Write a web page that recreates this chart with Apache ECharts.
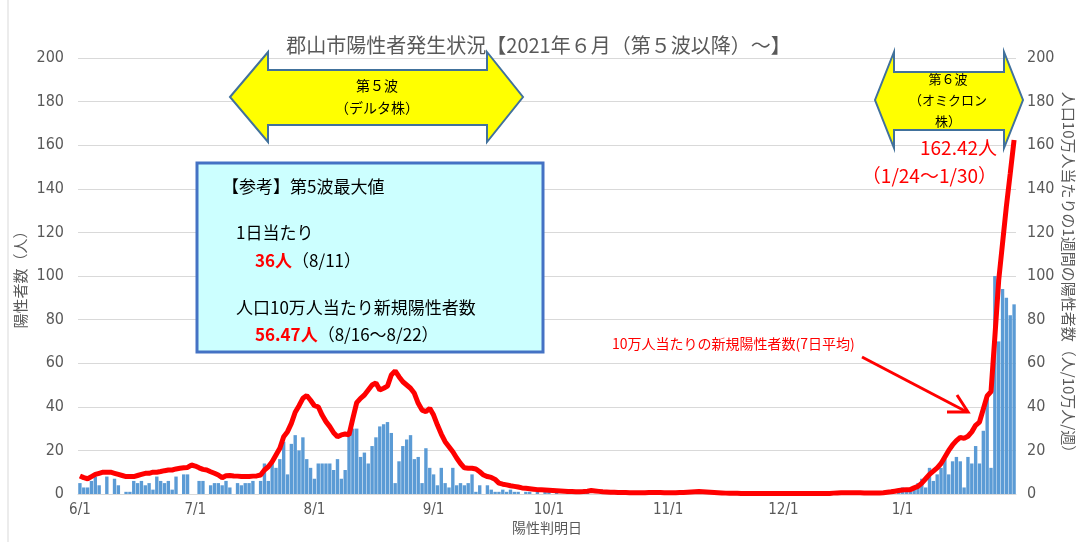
<!DOCTYPE html>
<html lang="ja">
<head>
<meta charset="utf-8">
<title>郡山市陽性者発生状況</title>
<script src="https://cdn.jsdelivr.net/npm/echarts@6/dist/echarts.min.js"></script>
<style>
  html, body { margin: 0; padding: 0; background: #fff; }
  #myChart { width: 1077px; height: 542px; }
</style>
</head>
<body>
<div id="myChart"></div>
<script>
// 期間 2021/6/1 〜 2022/1/30
const months = [6, 7, 8, 9, 10, 11, 12, 1]
const monthDays = [30, 31, 31, 30, 31, 30, 31, 30]

// 日別陽性者数（人）
const barsJun = [5, 3, 3, 6, 8, 4, 0, 8, 0, 7, 4, 0, 1, 1, 6, 5, 6, 4, 5, 2, 8, 6, 5, 6, 2, 8, 0, 9, 9, 0]
const barsJul = [0, 6, 6, 0, 4, 5, 5, 4, 6, 3, 0, 5, 4, 5, 5, 6, 0, 6, 14, 6, 15, 12, 16, 24, 9, 23, 27, 20, 26, 16, 12]
const barsAug = [7, 14, 14, 14, 14, 11, 16, 7, 11, 29, 30, 30, 17, 19, 14, 22, 26, 31, 32, 33, 28, 5, 15, 22, 25, 27, 16, 17, 5, 21, 12]
const barsSep = [9, 4, 12, 5, 3, 12, 4, 5, 4, 5, 9, 1, 4, 0, 4, 2, 1, 1, 2, 1, 2, 1, 1, 0, 1, 1, 0, 1, 0, 1]
const barsOct = [1, 0, 1, 0, 0, 1, 0, 0, 1, 2, 1, 0, 0, 0, 1, 0, 0, 0, 1, 0, 0, 0, 0, 1, 0, 0, 0, 0, 0, 1, 0]
const barsNov = [0, 0, 0, 1, 0, 0, 1, 0, 1, 0, 0, 0, 0, 0, 0, 0, 0, 1, 0, 0, 0, 0, 0, 0, 0, 0, 0, 0, 0, 0]
const barsDec = [0, 0, 0, 0, 0, 0, 0, 0, 0, 0, 0, 0, 0, 0, 0, 0, 0, 0, 0, 0, 0, 0, 1, 0, 1, 0, 0, 1, 0, 0, 1]
const barsJan = [3, 1, 1, 2, 5, 7, 3, 12, 6, 9, 12, 16, 9, 15, 17, 15, 3, 17, 14, 22, 14, 29, 45, 12, 100, 70, 94, 90, 82, 87]

// 10万人当たりの新規陽性者数（7日間）
const lineJun = [8.3, 7.5, 7.0, 8.0, 9.0, 9.5, 10.0, 10.0, 10.0, 9.5, 9.0, 8.5, 8.0, 8.0, 8.0, 8.5, 9.0, 9.5, 9.5, 10.0, 10.0, 10.3, 10.7, 11.0, 11.0, 11.5, 11.8, 12.0, 12.2, 13.3]
const lineJul = [12.8, 12.0, 11.3, 11.0, 10.2, 9.5, 8.7, 7.5, 8.4, 8.5, 8.3, 8.2, 8.0, 8.0, 8.0, 8.2, 8.3, 8.7, 11.0, 12.5, 14.8, 17.9, 21.0, 26.3, 28.6, 32.4, 37.5, 40.5, 43.9, 45.2, 43.0]
const lineAug = [40.5, 40.0, 36.2, 33.2, 30.9, 28.1, 26.3, 27.1, 27.5, 27.1, 34.7, 41.9, 43.9, 45.4, 47.7, 50.0, 51.0, 47.7, 48.5, 49.5, 54.6, 56.5, 53.8, 51.5, 50.0, 48.5, 46.2, 41.6, 38.5, 37.8, 39.3]
const lineSep = [36.2, 31.6, 27.5, 24.0, 21.7, 19.4, 16.5, 14.0, 12.0, 11.8, 11.8, 11.5, 10.2, 8.7, 8.0, 7.6, 6.7, 5.0, 4.5, 4.2, 3.8, 3.5, 3.2, 2.8, 2.6, 2.4, 2.2, 2.0, 1.9, 1.8]
const lineOct = [1.7, 1.6, 1.5, 1.4, 1.3, 1.2, 1.1, 1.0, 1.0, 1.1, 1.3, 1.6, 1.4, 1.2, 1.0, 0.9, 0.8, 0.8, 0.7, 0.7, 0.7, 0.6, 0.6, 0.6, 0.6, 0.6, 0.7, 0.7, 0.7, 0.7, 0.6]
const lineNov = [0.6, 0.6, 0.6, 0.7, 0.7, 0.8, 0.9, 1.0, 1.1, 1.0, 0.9, 0.8, 0.7, 0.6, 0.5, 0.4, 0.3, 0.3, 0.3, 0.2, 0.2, 0.2, 0.2, 0.2, 0.2, 0.2, 0.2, 0.2, 0.2, 0.2]
const lineDec = [0.2, 0.2, 0.2, 0.2, 0.2, 0.2, 0.2, 0.2, 0.2, 0.2, 0.2, 0.2, 0.2, 0.4, 0.5, 0.6, 0.6, 0.6, 0.6, 0.6, 0.6, 0.5, 0.5, 0.5, 0.5, 0.5, 0.6, 0.8, 1.0, 1.3, 1.6]
const lineJan = [1.8, 2.0, 2.0, 2.8, 3.5, 5.0, 7.0, 9.0, 10.5, 12.0, 14.0, 17.0, 20.0, 22.5, 24.5, 26.0, 25.5, 26.5, 28.5, 31.5, 33.0, 39.0, 45.0, 47.0, 72.0, 98.0, 115.0, 132.0, 147.0, 162.42]

// 軸の目盛り
const yMin = 0
const yMax = 200
const yStep = 20

const categories = []
months.forEach((m, i) => {
  for (let d = 1; d <= monthDays[i]; d++) {
    categories.push(m + '/' + d)
  }
})
const dailyCases = [].concat(barsJun, barsJul, barsAug, barsSep, barsOct, barsNov, barsDec, barsJan)
const weeklyPer100k = [].concat(lineJun, lineJul, lineAug, lineSep, lineOct, lineNov, lineDec, lineJan)

const jp = "'Noto Sans CJK JP', sans-serif"
const num = "'Liberation Sans Narrow', 'DejaVu Sans Condensed', Roboto, sans-serif"
const gray = '#595959'
const isMonthStart = (index, value) => /\/1$/.test(value)

const option = {
  animation: false,
  title: {
    text: '郡山市陽性者発生状況【2021年６月（第５波以降）～】',
    left: 'center',
    top: 30,
    textStyle: { color: gray, fontSize: 20, fontWeight: 'normal', fontFamily: jp }
  },
  grid: { left: 78, right: 61, top: 58, bottom: 48, containLabel: false, outerBoundsMode: 'none' },
  xAxis: {
    type: 'category',
    data: categories,
    name: '陽性判明日',
    nameLocation: 'middle',
    nameGap: 27,
    nameMoveOverlap: false,
    nameTextStyle: { color: gray, fontSize: 14, fontFamily: jp },
    axisLine: { lineStyle: { color: '#d9d9d9' } },
    axisTick: { interval: isMonthStart, alignWithLabel: true, length: 5, lineStyle: { color: '#d9d9d9' } },
    axisLabel: { interval: isMonthStart, color: gray, fontSize: 15, fontFamily: num, margin: 9 }
  },
  yAxis: [
    {
      type: 'value',
      min: yMin,
      max: yMax,
      interval: yStep,
      name: '陽性者数（人）',
      nameLocation: 'middle',
      nameGap: 50,
      nameMoveOverlap: false,
      nameTextStyle: { color: gray, fontSize: 15, fontFamily: jp },
      axisLine: { show: false },
      axisTick: { show: false },
      axisLabel: { color: gray, fontSize: 16, fontFamily: num, margin: 14 },
      splitLine: { lineStyle: { color: '#d9d9d9', width: 1 } }
    },
    {
      type: 'value',
      min: yMin,
      max: yMax,
      interval: yStep,
      position: 'right',
      name: '人口10万人当たりの1週間の陽性者数（人/10万人/週）',
      nameLocation: 'middle',
      nameRotate: -90,
      nameGap: 45,
      nameMoveOverlap: false,
      nameTextStyle: { color: gray, fontSize: 15, fontFamily: jp },
      axisLine: { show: false },
      axisTick: { show: false },
      axisLabel: { color: gray, fontSize: 16, fontFamily: num, margin: 11 },
      splitLine: { show: false }
    }
  ],
  series: [
    {
      name: '陽性者数',
      type: 'bar',
      data: dailyCases,
      barCategoryGap: '12%',
      itemStyle: { color: '#5b9bd5' }
    },
    {
      name: '10万人当たり',
      type: 'line',
      yAxisIndex: 1,
      data: weeklyPer100k,
      symbol: 'none',
      lineStyle: { color: '#ff0000', width: 5 },
      z: 5
    }
  ],
  graphic: [
    // 外枠
    { type: 'line', shape: { x1: 8, y1: 0, x2: 8, y2: 542 }, style: { stroke: '#d9d9d9', lineWidth: 1 } },
    // 第5波の矢印
    {
      type: 'polygon',
      shape: { points: [[230, 97], [268, 52], [268, 70], [487, 70], [487, 52], [523, 97], [487, 142], [487, 125], [268, 125], [268, 142]] },
      style: { fill: '#ffff00', stroke: '#41719c', lineWidth: 2 },
      z: 10
    },
    { type: 'text', x: 377, y: 86, style: { text: '第５波', fill: '#000', font: "14px 'Noto Sans CJK JP'", align: 'center', verticalAlign: 'middle' }, z: 11 },
    { type: 'text', x: 377, y: 108, style: { text: '（デルタ株）', fill: '#000', font: "14px 'Noto Sans CJK JP'", align: 'center', verticalAlign: 'middle' }, z: 11 },
    // 第6波の矢印
    {
      type: 'polygon',
      shape: { points: [[875, 100], [894, 52], [894, 72], [1004, 72], [1004, 52], [1023, 100], [1004, 148], [1004, 130], [894, 130], [894, 148]] },
      style: { fill: '#ffff00', stroke: '#41719c', lineWidth: 2 },
      z: 10
    },
    { type: 'text', x: 948, y: 79, style: { text: '第６波', fill: '#000', font: "13px 'Noto Sans CJK JP'", align: 'center', verticalAlign: 'middle' }, z: 11 },
    { type: 'text', x: 948, y: 100, style: { text: '（オミクロン', fill: '#000', font: "13px 'Noto Sans CJK JP'", align: 'center', verticalAlign: 'middle' }, z: 11 },
    { type: 'text', x: 948, y: 121, style: { text: '株）', fill: '#000', font: "13px 'Noto Sans CJK JP'", align: 'center', verticalAlign: 'middle' }, z: 11 },
    { type: 'text', x: 997, y: 148, style: { text: '162.42人', fill: '#ff0000', font: "19px 'Noto Sans CJK JP'", align: 'right', verticalAlign: 'middle' }, z: 11 },
    { type: 'text', x: 997, y: 176, style: { text: '（1/24～1/30）', fill: '#ff0000', font: "19px 'Noto Sans CJK JP'", align: 'right', verticalAlign: 'middle' }, z: 11 },
    // 参考の枠
    {
      type: 'rect',
      shape: { x: 197, y: 163, width: 346, height: 189 },
      style: { fill: '#ccffff', stroke: '#4472c4', lineWidth: 3 },
      z: 10
    },
    { type: 'text', x: 222, y: 187, style: { text: '【参考】第5波最大値', fill: '#000', font: "17px 'Noto Sans CJK JP'", verticalAlign: 'middle' }, z: 11 },
    { type: 'text', x: 236, y: 233, style: { text: '1日当たり', fill: '#000', font: "17px 'Noto Sans CJK JP'", verticalAlign: 'middle' }, z: 11 },
    {
      type: 'text', x: 255, y: 261,
      style: {
        text: '{r|36人}{k|（8/11）}',
        verticalAlign: 'middle',
        rich: {
          r: { fill: '#ff0000', fontWeight: 'bold', fontSize: 17, fontFamily: jp },
          k: { fill: '#000', fontSize: 17, fontFamily: jp }
        }
      },
      z: 11
    },
    { type: 'text', x: 236, y: 308, style: { text: '人口10万人当たり新規陽性者数', fill: '#000', font: "17px 'Noto Sans CJK JP'", verticalAlign: 'middle' }, z: 11 },
    {
      type: 'text', x: 255, y: 335,
      style: {
        text: '{r|56.47人}{k|（8/16～8/22）}',
        verticalAlign: 'middle',
        rich: {
          r: { fill: '#ff0000', fontWeight: 'bold', fontSize: 17, fontFamily: jp },
          k: { fill: '#000', fontSize: 17, fontFamily: jp }
        }
      },
      z: 11
    },
    // 折れ線の説明と矢印
    { type: 'text', x: 612, y: 344, style: { text: '10万人当たりの新規陽性者数(7日平均)', fill: '#ff0000', font: "14px 'Noto Sans CJK JP'", verticalAlign: 'middle' }, z: 11 },
    { type: 'line', shape: { x1: 862, y1: 357, x2: 967, y2: 412 }, style: { stroke: '#ff0000', lineWidth: 3 }, z: 11 },
    { type: 'polyline', shape: { points: [[957, 395], [968, 412], [947, 412]] }, style: { stroke: '#ff0000', lineWidth: 3, fill: null }, z: 11 }
  ]
}

const myChart = echarts.init(document.getElementById('myChart'))
myChart.setOption(option)
window.addEventListener('resize', () => {
  myChart.resize()
})
</script>
</body>
</html>
